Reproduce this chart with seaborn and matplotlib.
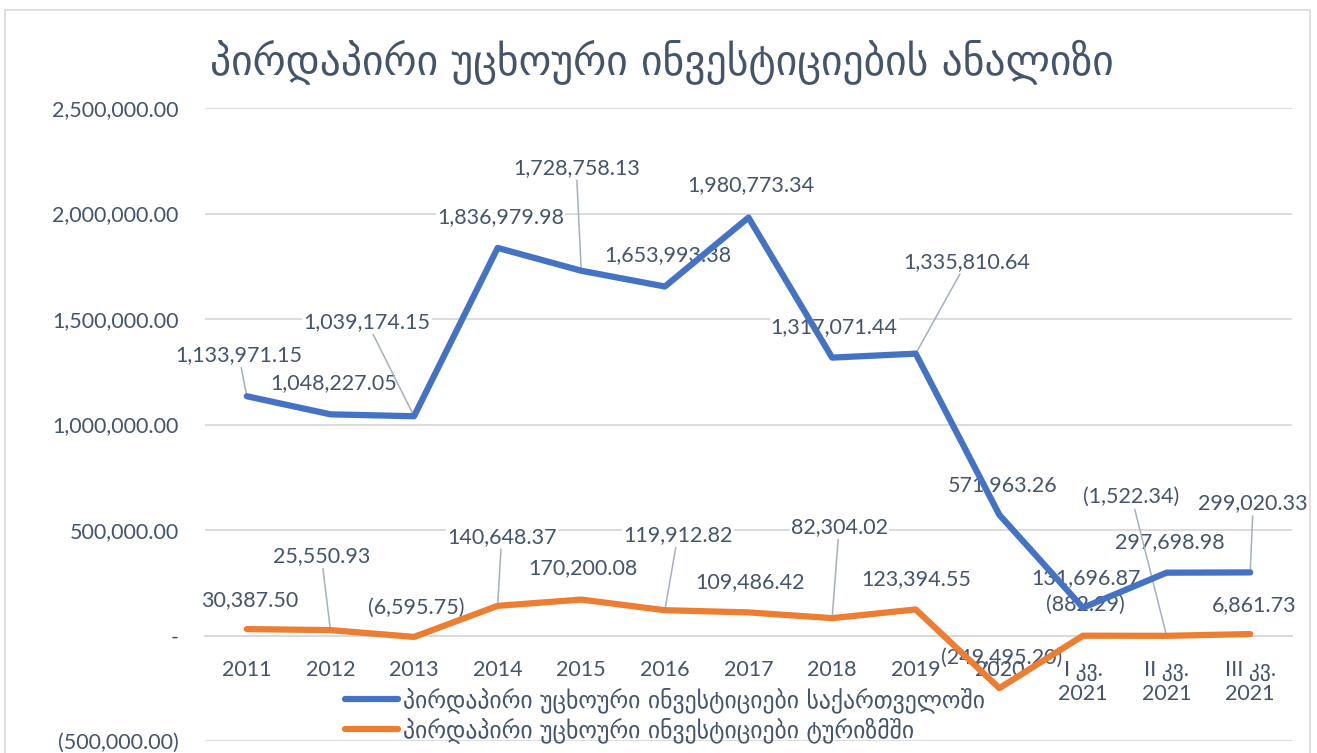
import numpy as np
import pandas as pd
import matplotlib
matplotlib.use('Agg')
import matplotlib.pyplot as plt
from matplotlib.patches import Rectangle
import seaborn as sns

sns.set_style("white")
plt.rcParams['font.family'] = ['Lato', 'DejaVu Sans']

# ---- data ----
categories = ['2011', '2012', '2013', '2014', '2015', '2016', '2017', '2018', '2019', '2020',
              'I კვ.\n2021', 'II კვ.\n2021', 'III კვ.\n2021']
georgia_fdi = [1133971.15, 1048227.05, 1039174.15, 1836979.98, 1728758.13, 1653993.38, 1980773.34,
               1317071.44, 1335810.64, 571963.26, 131696.87, 297698.98, 299020.33]
tourism_fdi = [30387.50, 25550.93, -6595.75, 140648.37, 170200.08, 119912.82, 109486.42,
               82304.02, 123394.55, -249495.20, -882.29, -1522.34, 6861.73]
series_names = ['პირდაპირი უცხოური ინვესტიციები საქართველოში',
                'პირდაპირი უცხოური ინვესტიციები ტურიზმში']
title = 'პირდაპირი უცხოური ინვესტიციების ანალიზი'
yticks = [-500000, 0, 500000, 1000000, 1500000, 2000000, 2500000]

# label placement (pixel offsets from the point) and which ones get a leader line
blue_off = [(-8, 41), (3, 31), (-47, 94), (3, 31), (-5, 103), (3, 31), (2, 32),
            (2, 31), (51, 92), (3, 30), (3, 30), (3, 31), (3, 69)]
blue_leader = [1, 0, 1, 0, 1, 0, 0, 0, 1, 0, 0, 0, 1]
orange_off = [(3, 29), (-9, 74), (2, 29), (4, 69), (2, 31), (13, 75), (2, 30),
              (7, 91), (1, 30), (2, 30), (2, 31), (-35, 139), (4, 29)]
orange_leader = [0, 1, 0, 1, 0, 1, 0, 1, 0, 0, 0, 1, 0]

blue = '#4472C4'
orange = '#ED7D31'
txt = '#44546A'
grid = '#D9D9D9'
lead = '#A5B0BE'
fs = 15.5

W, H = 1317, 753
df = pd.DataFrame({
    'x': list(range(len(categories))) * 2,
    'value': georgia_fdi + tourism_fdi,
    'series': [series_names[0]] * len(categories) + [series_names[1]] * len(categories),
})

fig = plt.figure(figsize=(W / 100, H / 100), dpi=100)
ax = fig.add_axes([205 / W, 1 - 741 / H, (1292 - 205) / W, (741 - 108) / H])

sns.lineplot(data=df, x='x', y='value', hue='series', hue_order=series_names,
             palette=[blue, orange], sort=False, linewidth=4.5, ax=ax,
             solid_capstyle='round', solid_joinstyle='round', zorder=4)

ax.set_xlim(-0.5, len(categories) - 0.5)
ax.set_ylim(-500000, 2500000)
ax.set_xlabel('')
ax.set_ylabel('')


def acc(v):
    if v > 0:
        return f'{v:,.2f}'
    if v < 0:
        return f'({-v:,.2f})'
    return '-'


ax.set_yticks(yticks)
ax.set_yticklabels([acc(v) for v in yticks])
ax.grid(axis='y', color=grid, lw=1.3)
ax.grid(axis='x', visible=False)
ax.tick_params(axis='y', length=0, pad=19, labelsize=fs, labelcolor=txt)

ax.set_xticks(range(len(categories)))
ax.set_xticklabels(categories)
ax.set_xticks(np.arange(-0.5, len(categories)), minor=True)
ax.tick_params(axis='x', which='major', length=0, pad=18, labelsize=fs, labelcolor=txt)
ax.tick_params(axis='x', which='minor', length=6, width=1.3, color=grid, direction='out')
for t in ax.get_xticklabels():
    t.set_linespacing(1.6)
ax.xaxis.set_zorder(3.5)

for s in ['top', 'right', 'left']:
    ax.spines[s].set_visible(False)
ax.spines['bottom'].set_position(('data', 0))
ax.spines['bottom'].set_color(grid)
ax.spines['bottom'].set_linewidth(1.3)

# data labels
for vals, offs, leads in [(georgia_fdi, blue_off, blue_leader), (tourism_fdi, orange_off, orange_leader)]:
    for i, v in enumerate(vals):
        arrow = dict(arrowstyle='-', color=lead, lw=1.1, shrinkA=1, shrinkB=0) if leads[i] else None
        ax.annotate(acc(v), xy=(i, v), xytext=offs[i], textcoords='offset pixels',
                    ha='center', va='center', fontsize=fs, color=txt, zorder=3,
                    bbox=dict(boxstyle='square,pad=0.05', fc='white', ec='none'),
                    arrowprops=arrow)

# legend inside the plot, no frame
handles, labels = ax.get_legend_handles_labels()
ax.legend(handles, labels, loc='center', bbox_to_anchor=(665 / W, 1 - 715 / H),
          bbox_transform=fig.transFigure, frameon=False,
          handlelength=2.25, handletextpad=0.2, labelspacing=0.2, labelcolor=txt,
          prop={'family': ['DejaVu Sans'], 'size': 17})

fig.text(662 / W, 1 - 62 / H, title, ha='center', va='center', fontsize=30,
         color=txt, family=['DejaVu Sans'])

# light chart border
fig.patches.append(Rectangle((5 / W, -0.1), 1305 / W, (H - 10) / H + 0.1,
                             transform=fig.transFigure, fill=False, ec=grid, lw=1.2))

plt.savefig('out.png', dpi=100)
